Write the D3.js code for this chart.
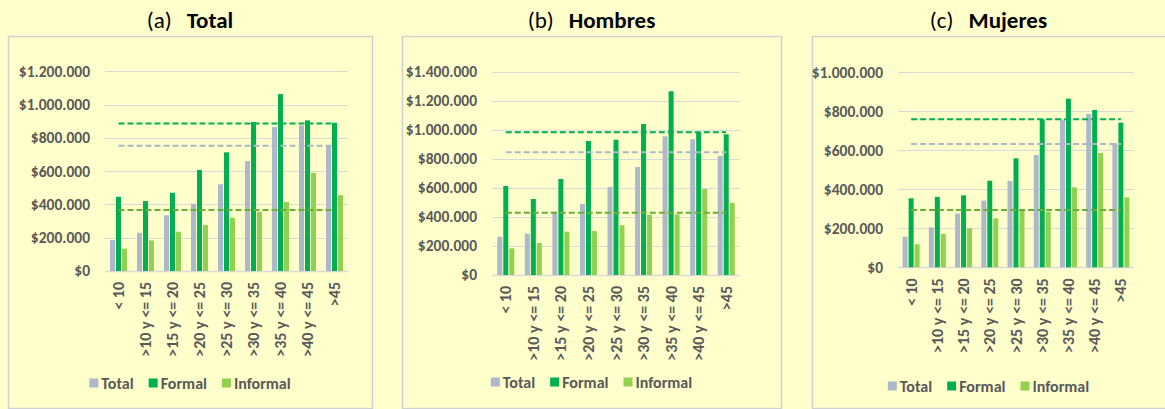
<!DOCTYPE html>
<html>
<head>
<meta charset="utf-8">
<script src="https://cdn.jsdelivr.net/npm/d3@7"></script>
<style>
  html, body { margin: 0; padding: 0; background: #FFFFCC; }
  svg { display: block; }
  text { font-family: Calibri, Carlito, Lato, sans-serif; }
</style>
</head>
<body>
<svg id="chart" width="1165" height="409"></svg>
<script>
// salario promedio por antiguedad: total / formal / informal
const categories = ["< 10", ">10 y <= 15", ">15 y <= 20", ">20 y <= 25", ">25 y <= 30",
                    ">30 y <= 35", ">35 y <= 40", ">40 y <= 45", ">45"];
const seriesNames = ["Total", "Formal", "Informal"];
const colors = ["#ADB9CA", "#00B050", "#92D050"];
const avgColors = ["#ADB9CA", "#00B050", "#6AAE3A"];

const letters = ["(a)", "(b)", "(c)"];
const titles = ["Total", "Hombres", "Mujeres"];

const totalA = [186000, 230000, 335000, 404000, 521000, 661000, 865000, 875000, 757000];
const formalA = [446000, 420000, 470000, 607000, 713000, 895000, 1063000, 905000, 891000];
const informalA = [134000, 184000, 236000, 276000, 320000, 356000, 414000, 590000, 456000];
const avgA = [753000, 887000, 366000];

const totalB = [264000, 285000, 437000, 490000, 607000, 745000, 956000, 936000, 821000];
const formalB = [614000, 524000, 662000, 924000, 933000, 1041000, 1267000, 979000, 970000];
const informalB = [184000, 221000, 299000, 303000, 343000, 416000, 418000, 593000, 497000];
const avgB = [846000, 984000, 430000];

const totalC = [157000, 205000, 275000, 342000, 443000, 576000, 755000, 786000, 636000];
const formalC = [354000, 361000, 369000, 444000, 559000, 759000, 865000, 807000, 742000];
const informalC = [118000, 171000, 200000, 251000, 294000, 285000, 410000, 586000, 359000];
const avgC = [632000, 759000, 294000];

const ticksA = [0, 200000, 400000, 600000, 800000, 1000000, 1200000];
const ticksB = [0, 200000, 400000, 600000, 800000, 1000000, 1200000, 1400000];
const ticksC = [0, 200000, 400000, 600000, 800000, 1000000];

// layout of each panel (box + plot area), in pixels
const panels = [
    { series: [totalA, formalA, informalA], avg: avgA, ticks: ticksA,
      box: [8, 36, 372, 408], px: [105, 348], py: [271, 71.3] },
    { series: [totalB, formalB, informalB], avg: avgB, ticks: ticksB,
      box: [402, 36, 781, 408], px: [492, 740], py: [275, 72] },
    { series: [totalC, formalC, informalC], avg: avgC, ticks: ticksC,
      box: [812, 36, 1167, 408], px: [898, 1134], py: [267.3, 72.3] }
];

const locale = d3.formatLocale({ decimal: ",", thousands: ".", grouping: [3], currency: ["$", ""] });
const money = locale.format("$,");

const svg = d3.select("#chart");
const barW = 5;
const barGap = 1;

panels.forEach((p, i) => {
    const g = svg.append("g");
    const [bx0, by0, bx1, by1] = p.box;

    g.append("rect")
        .attr("x", bx0 + 0.5).attr("y", by0 + 0.5)
        .attr("width", bx1 - bx0).attr("height", by1 - by0)
        .attr("fill", "none")
        .attr("stroke", "#D0D0D0")
        .attr("stroke-width", 1.5);

    // title
    const cx = (bx0 + Math.min(bx1, 1165)) / 2;
    const title = g.append("text")
        .attr("x", cx).attr("y", 28)
        .attr("text-anchor", "middle")
        .attr("fill", "#000")
        .style("font-size", "23px");
    title.append("tspan").text(letters[i]);
    title.append("tspan").attr("dx", 15).style("font-weight", "bold").text(titles[i]);

    const x = d3.scaleBand().domain(categories).range(p.px).padding(0);
    const y = d3.scaleLinear().domain([0, d3.max(p.ticks)]).range(p.py);

    // gridlines
    g.append("g").selectAll("line")
        .data(p.ticks)
        .join("line")
        .attr("x1", p.px[0]).attr("x2", p.px[1])
        .attr("y1", d => Math.round(y(d)) + 0.5)
        .attr("y2", d => Math.round(y(d)) + 0.5)
        .attr("stroke", "#D9D9D9")
        .attr("stroke-width", d => d === 0 ? 1.5 : 1);

    // y axis labels
    const yAxis = g.append("g")
        .attr("transform", `translate(${p.px[0] - 15},0)`)
        .call(d3.axisLeft(y).tickValues(p.ticks).tickFormat(money).tickSize(0).tickPadding(0));
    yAxis.select(".domain").remove();
    yAxis.selectAll("text")
        .attr("fill", "#595959")
        .style("font-size", "15.5px")
        .style("font-weight", "bold")
        .style("font-family", "Calibri, Carlito, Lato, sans-serif");

    // x axis labels, rotated
    const xAxis = g.append("g")
        .attr("transform", `translate(0,${p.py[0]})`)
        .call(d3.axisBottom(x).tickSize(0).tickPadding(0));
    xAxis.select(".domain").remove();
    xAxis.selectAll("text")
        .attr("transform", "rotate(-90)")
        .attr("x", -11).attr("y", 0).attr("dy", "0.35em")
        .attr("text-anchor", "end")
        .attr("fill", "#595959")
        .style("font-size", "16px")
        .style("font-weight", "bold")
        .style("font-family", "Calibri, Carlito, Lato, sans-serif");

    // bars
    const groupW = 3 * barW + 2 * barGap;
    p.series.forEach((vals, s) => {
        g.append("g").selectAll("rect")
            .data(vals)
            .join("rect")
            .attr("x", (d, k) => x(categories[k]) + x.bandwidth() / 2 - groupW / 2 + s * (barW + barGap))
            .attr("y", d => y(d))
            .attr("width", barW)
            .attr("height", d => y(0) - y(d))
            .attr("fill", colors[s]);
    });

    // average dashed lines
    const xa = x(categories[0]) + x.bandwidth() / 2;
    const xb = x(categories[categories.length - 1]) + x.bandwidth() / 2;
    g.append("g").selectAll("line")
        .data(p.avg)
        .join("line")
        .attr("x1", xa).attr("x2", xb)
        .attr("y1", d => y(d)).attr("y2", d => y(d))
        .attr("stroke", (d, s) => avgColors[s])
        .attr("stroke-width", 2)
        .attr("stroke-dasharray", "6,3");

    // legend
    const leg = g.append("g");
    let lx = 0;
    seriesNames.forEach((name, s) => {
        leg.append("rect")
            .attr("x", lx).attr("y", -4.5)
            .attr("width", 9).attr("height", 9)
            .attr("fill", colors[s]);
        const t = leg.append("text")
            .attr("x", lx + 12).attr("y", 0).attr("dy", "0.35em")
            .attr("fill", "#595959")
            .style("font-size", "16px")
            .style("font-weight", "bold")
            .text(name);
        lx += 12 + t.node().getComputedTextLength() + 15;
    });
    lx -= 15;
    const legY = [383, 382, 386][i];
    leg.attr("transform", `translate(${cx - lx / 2},${legY})`);
});
</script>
</body>
</html>
